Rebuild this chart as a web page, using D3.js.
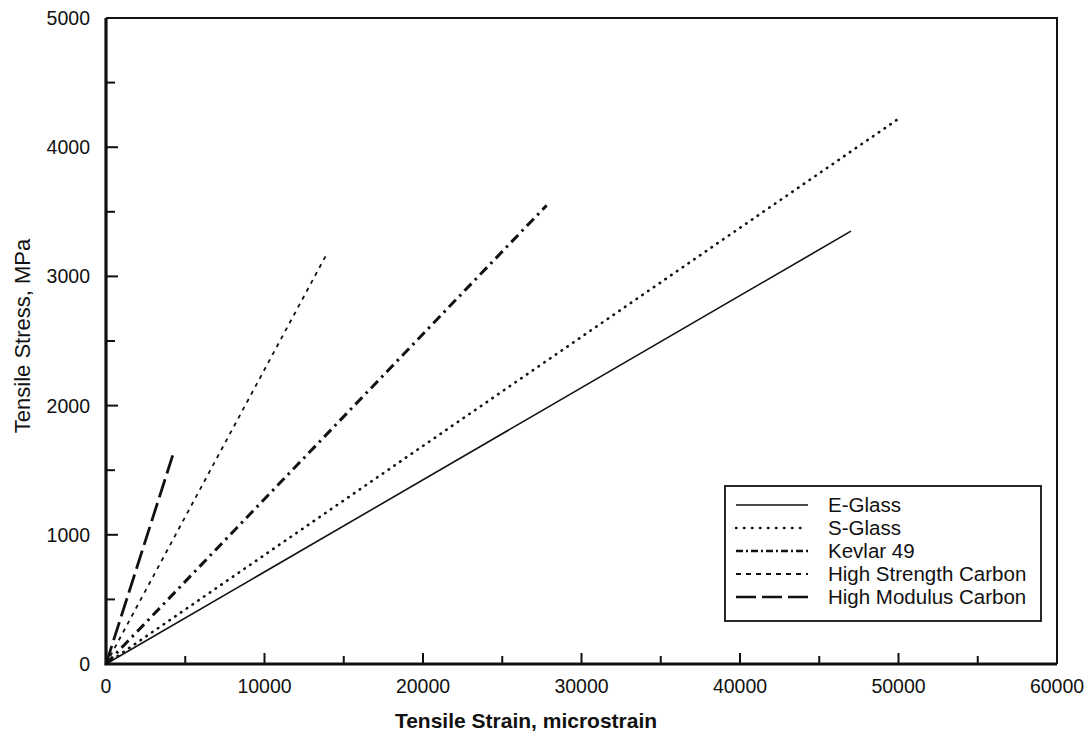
<!DOCTYPE html>
<html>
<head>
<meta charset="utf-8">
<script src="https://cdn.jsdelivr.net/npm/d3@7"></script>
<style>
  body { margin: 0; background: #fff; }
  text { font-family: "Liberation Sans", Arial, sans-serif; fill: #111; }
</style>
</head>
<body>
<div id="chart"></div>
<script>
// fibres: strain at failure (microstrain) and stress at failure (MPa)
var fibres = ["E-Glass", "S-Glass", "Kevlar 49", "High Strength Carbon", "High Modulus Carbon"];
var failStrain = [47000, 50000, 27800, 14000, 4300];
var failStress = [3350, 4220, 3550, 3190, 1650];
var xTicks = [0, 10000, 20000, 30000, 40000, 50000, 60000];
var yTicks = [0, 1000, 2000, 3000, 4000, 5000];

var width = 1089, height = 754;
var margin = {left: 106, top: 18, right: 32, bottom: 90};

// line looks, same order as fibres
var styles = [
    {dash: null, w: 1.6, cap: "butt"},
    {dash: "0.5,6.5", w: 2.6, cap: "round"},
    {dash: "10,5,2.5,5", w: 3, cap: "butt"},
    {dash: "4,5", w: 1.8, cap: "butt"},
    {dash: "19,6", w: 2.8, cap: "butt"}
];

var svg = d3.select("#chart").append("svg")
    .attr("width", width)
    .attr("height", height);

var pw = width - margin.left - margin.right;
var ph = height - margin.top - margin.bottom;

var xScale = d3.scaleLinear().domain([0, 60000]).range([0, pw]);
var yScale = d3.scaleLinear().domain([0, 5000]).range([ph, 0]);

var g = svg.append("g")
    .attr("transform", "translate(" + margin.left + "," + margin.top + ")");

// frame, top and right thinner than the axes
g.append("path")
    .attr("d", "M0,0H" + pw + "V" + ph)
    .attr("fill", "none")
    .attr("stroke", "#111")
    .attr("stroke-width", 2);

// minor ticks (inward)
var xMinor = d3.range(5000, 60000, 10000);
var yMinor = d3.range(500, 5000, 1000);

g.selectAll(".xminor").data(xMinor).enter().append("line")
    .attr("x1", function (d) { return xScale(d); })
    .attr("x2", function (d) { return xScale(d); })
    .attr("y1", ph).attr("y2", ph - 8)
    .attr("stroke", "#111").attr("stroke-width", 2);

g.selectAll(".xmajor").data(xTicks.slice(1, -1)).enter().append("line")
    .attr("x1", function (d) { return xScale(d); })
    .attr("x2", function (d) { return xScale(d); })
    .attr("y1", ph).attr("y2", ph - 11)
    .attr("stroke", "#111").attr("stroke-width", 2);

g.selectAll(".yminor").data(yMinor).enter().append("line")
    .attr("y1", function (d) { return yScale(d); })
    .attr("y2", function (d) { return yScale(d); })
    .attr("x1", 0).attr("x2", 9)
    .attr("stroke", "#111").attr("stroke-width", 2);

g.selectAll(".ymajor").data(yTicks.slice(1, -1)).enter().append("line")
    .attr("y1", function (d) { return yScale(d); })
    .attr("y2", function (d) { return yScale(d); })
    .attr("x1", 0).attr("x2", 12)
    .attr("stroke", "#111").attr("stroke-width", 2);

// axis lines
g.append("path")
    .attr("d", "M0,0V" + ph + "H" + pw)
    .attr("fill", "none")
    .attr("stroke", "#111")
    .attr("stroke-width", 3.2);

// tick labels
g.selectAll(".xlab").data(xTicks).enter().append("text")
    .attr("x", function (d) { return xScale(d); })
    .attr("y", ph + 29)
    .attr("text-anchor", "middle")
    .style("font-size", "19.5px")
    .text(function (d) { return d; });

g.selectAll(".ylab").data(yTicks).enter().append("text")
    .attr("x", -16)
    .attr("y", function (d) { return yScale(d) + 7; })
    .attr("text-anchor", "end")
    .style("font-size", "19.5px")
    .text(function (d) { return d; });

// axis titles
svg.append("text")
    .attr("x", 526)
    .attr("y", 728)
    .attr("text-anchor", "middle")
    .style("font-size", "21px")
    .style("font-weight", "bold")
    .text("Tensile Strain, microstrain");

svg.append("text")
    .attr("transform", "translate(30," + 336 + ") rotate(-90)")
    .attr("text-anchor", "middle")
    .style("font-size", "22px")
    .text("Tensile Stress, MPa");

// the fibre lines
var line = d3.line()
    .x(function (d) { return xScale(d[0]); })
    .y(function (d) { return yScale(d[1]); });

fibres.forEach(function (name, i) {
    var pts = [[0, 0], [failStrain[i], failStress[i]]];
    g.append("path")
        .datum(pts)
        .attr("d", line)
        .attr("fill", "none")
        .attr("stroke", "#111")
        .attr("stroke-width", styles[i].w)
        .attr("stroke-linecap", styles[i].cap)
        .attr("stroke-dasharray", styles[i].dash);
});

// legend
var legendDash = [null, "0.5,7.5", "7,3,2,3", "5,5", "20,6"];
var legend = svg.append("g").attr("transform", "translate(725,486)");
legend.append("rect")
    .attr("width", 316).attr("height", 135)
    .attr("fill", "#fff")
    .attr("stroke", "#111")
    .attr("stroke-width", 1.8);

var rows = legend.selectAll(".row").data(fibres).enter().append("g")
    .attr("transform", function (d, i) { return "translate(0," + (19 + i * 23) + ")"; });

rows.append("line")
    .attr("x1", 11).attr("x2", 83)
    .attr("stroke", "#111")
    .attr("stroke-width", function (d, i) { return Math.min(styles[i].w, 2.4); })
    .attr("stroke-linecap", function (d, i) { return styles[i].cap; })
    .attr("stroke-dasharray", function (d, i) { return legendDash[i]; });

rows.append("text")
    .attr("x", 103)
    .attr("y", 7)
    .style("font-size", "20.5px")
    .text(function (d) { return d; });
</script>
</body>
</html>
